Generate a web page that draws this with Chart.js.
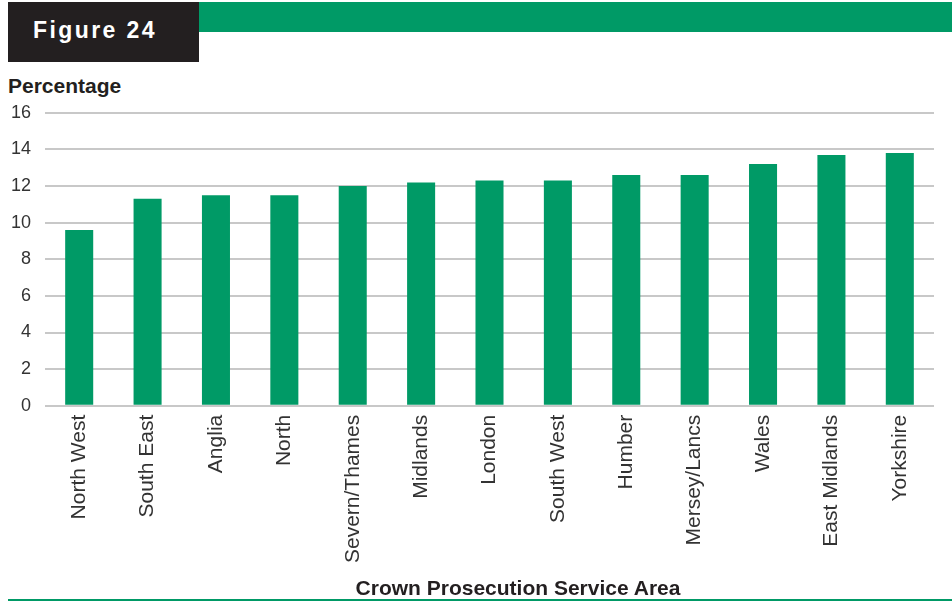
<!DOCTYPE html>
<html>
<head>
<meta charset="utf-8">
<script src="https://cdn.jsdelivr.net/npm/chart.js@4/dist/chart.umd.min.js"></script>
<style>
  body { margin: 0; background: #fff; width: 952px; height: 602px; position: relative; overflow: hidden; font-family: "Liberation Sans", Arial, sans-serif; }
  #band { position: absolute; left: 199px; top: 2px; width: 753px; height: 30px; background: #009a66; }
  #figbox { position: absolute; left: 8px; top: 2px; width: 191px; height: 60px; background: #231f20; }
  #figbox span { position: absolute; left: 25px; top: 15px; color: #fff; font-weight: bold; font-size: 23px; letter-spacing: 2.4px; }
  #ylab { position: absolute; left: 8px; top: 74px; font-weight: bold; font-size: 21px; color: #231f20; }
  #xlab { position: absolute; left: 318px; width: 400px; top: 575px; line-height: 25px; text-align: center; font-weight: bold; font-size: 21px; color: #231f20; }
  #wrap { position: absolute; left: 0; top: 88px; width: 952px; height: 514px; }
  #rule { position: absolute; left: 8px; top: 599px; width: 944px; height: 2px; background: #009a66; }
</style>
</head>
<body>
<div id="band"></div>
<div id="figbox"><span>Figure 24</span></div>
<div id="ylab">Percentage</div>
<div id="wrap"><canvas id="myChart" width="952" height="514"></canvas></div>
<div id="xlab">Crown Prosecution Service Area</div>
<div id="rule"></div>
<script>
var areas = ['North West', 'South East', 'Anglia', 'North', 'Severn/Thames', 'Midlands', 'London',
    'South West', 'Humber', 'Mersey/Lancs', 'Wales', 'East Midlands', 'Yorkshire'];
var percentages = [9.6, 11.3, 11.5, 11.5, 12.0, 12.2, 12.3, 12.3, 12.6, 12.6, 13.2, 13.7, 13.8];
var yTicks = [0, 2, 4, 6, 8, 10, 12, 14, 16];

function drawChart() {
    var ctx = document.getElementById('myChart').getContext('2d');
    var chart = new Chart(ctx, {
        type: 'bar',
        data: {
            labels: areas,
            datasets: [{
                label: 'Percentage',
                data: percentages,
                backgroundColor: '#009a66',
                barPercentage: 0.41,
                categoryPercentage: 1
            }]
        },
        options: {
            responsive: false,
            animation: false,
            // bottom padding leaves room for the html axis title
            layout: { padding: { top: 0, right: 18, left: 9, bottom: 38 } },
            plugins: { legend: { display: false }, tooltip: { enabled: false } },
            scales: {
                x: {
                    grid: { display: false },
                    border: { display: false },
                    ticks: {
                        color: '#333333',
                        font: { family: 'Liberation Sans', size: 21 },
                        minRotation: 90,
                        maxRotation: 90,
                        autoSkip: false,
                        padding: 1
                    }
                },
                y: {
                    min: 0,
                    max: 16,
                    afterBuildTicks: function (axis) {
                        axis.ticks = yTicks.map(function (v) { return { value: v }; });
                    },
                    afterFit: function (axis) {
                        axis.width = 36;
                    },
                    grid: { color: '#c8c8c8', lineWidth: 2, drawTicks: false },
                    border: { display: false },
                    ticks: {
                        color: '#333333',
                        font: { family: 'Liberation Sans', size: 18 },
                        padding: 14
                    }
                }
            }
        }
    });
}
drawChart();
</script>
</body>
</html>
